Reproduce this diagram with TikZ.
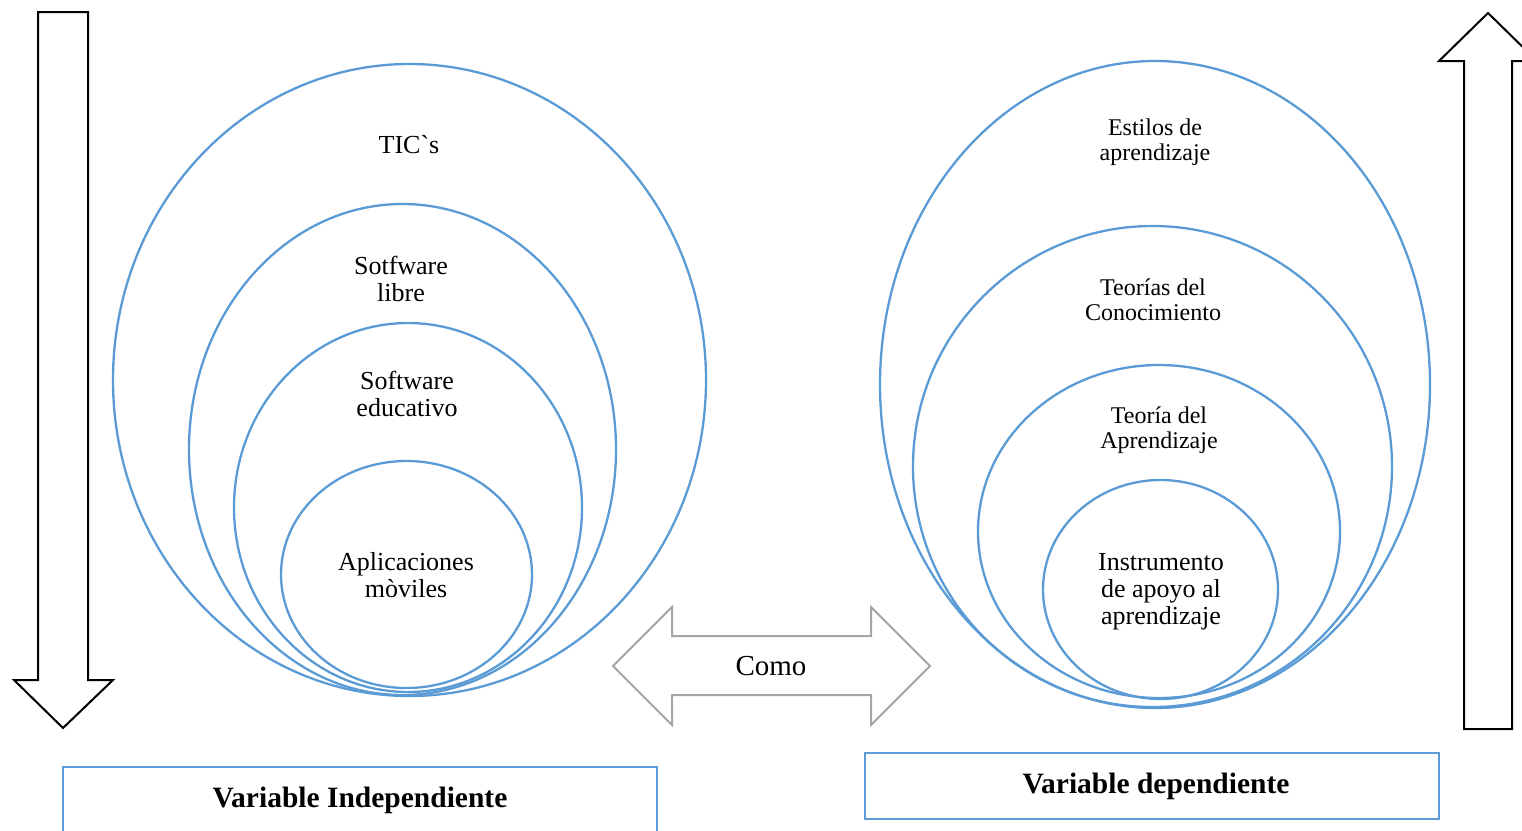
\documentclass[tikz,border=0pt]{standalone}
\usepackage{fontspec}
\setmainfont{Liberation Serif}[Ligatures=TeXOff]
\usetikzlibrary{shapes.geometric}
\definecolor{ringblue}{HTML}{5B9BD5}
\definecolor{arrowgray}{HTML}{A5A5A5}
\tikzset{
  ring/.style={draw=ringblue, line width=2.3pt, ellipse, inner sep=0pt},
  lbl/.style={align=center, font=\fontsize{26}{27}\selectfont, inner sep=0pt},
  lblsm/.style={align=center, font=\fontsize{24}{25}\selectfont, inner sep=0pt},
  bigarrow/.style={draw=black, line width=2pt, fill=white, line join=miter},
  varbox/.style={draw=ringblue, line width=2.6pt},
  vartitle/.style={font=\bfseries\fontsize{29.5}{30}\selectfont, inner sep=0pt}
}
\begin{document}
\begin{tikzpicture}[x=1pt, y=-1pt]
\useasboundingbox (0,0) rectangle (1522,830);
\clip (0,0) rectangle (1522,830);

% vertical arrows at both edges
\draw[bigarrow] (38,12) -- (88,12) -- (88,680) -- (113,680) -- (63,728)
  -- (14,680) -- (38,680) -- cycle;
\draw[bigarrow] (1464,729) -- (1512,729) -- (1512,61) -- (1537,61) -- (1488,13)
  -- (1439,61) -- (1464,61) -- cycle;

% independent variable: nested rings
\node[ring, minimum width=593pt, minimum height=632pt] (tics) at (409.5,380) {};
\node[ring, minimum width=427pt, minimum height=491pt] (libre) at (402.5,449.5) {};
\node[ring, minimum width=348pt, minimum height=369pt] (educ) at (408,507.5) {};
\node[ring, minimum width=251pt, minimum height=227pt] (movil) at (406.5,574.5) {};

\node[lbl] (ticsT) at (409,145) {TIC`s};
\node[lbl] (libreT) at (401,279) {Sotfware\\libre};
\node[lbl] (educT) at (407,394) {Software\\educativo};
\node[lbl] (movilT) at (406,575) {Aplicaciones\\mòviles};

% dependent variable: nested rings
\node[ring, minimum width=550pt, minimum height=647pt] (estilos) at (1155,384.5) {};
\node[ring, minimum width=479pt, minimum height=481pt] (conoc) at (1152.5,466.5) {};
\node[ring, minimum width=362pt, minimum height=333pt] (aprend) at (1159,531.5) {};
\node[ring, minimum width=235pt, minimum height=219pt] (instr) at (1160.5,589.5) {};

\node[lblsm] (estilosT) at (1155,142) {Estilos de\\aprendizaje};
\node[lblsm] (conocT) at (1153,300) {Teorías del\\Conocimiento};
\node[lblsm] (aprendT) at (1159,430) {Teoría del\\Aprendizaje};
\node[lbl] (instrT) at (1161,592) {Instrumento\\de apoyo al\\aprendizaje};

% double arrow between the two groups
\draw[draw=arrowgray, line width=2pt, fill=white, line join=miter]
  (613,666) -- (672,607) -- (672,636) -- (871,636) -- (871,607) -- (930,666)
  -- (871,725) -- (871,695) -- (672,695) -- (672,725) -- cycle;
\node[font=\fontsize{29}{30}\selectfont, inner sep=0pt] (como) at (771,666) {Como};

% variable titles
\draw[varbox] (63,767) rectangle (657,870);
\node[vartitle] (indep) at (360,800) {Variable Independiente};
\draw[varbox] (865,753) rectangle (1439,819);
\node[vartitle] (dep) at (1156,786) {Variable dependiente};
\end{tikzpicture}
\end{document}
